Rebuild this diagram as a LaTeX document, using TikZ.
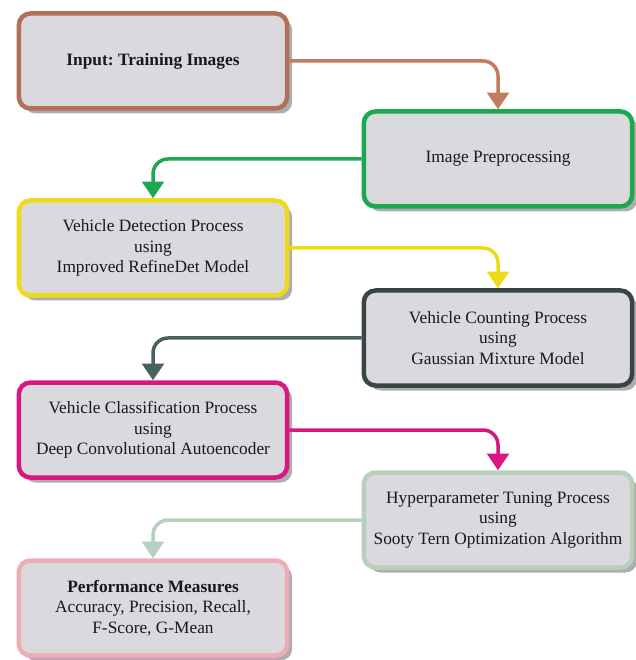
\documentclass[tikz,border=0pt]{standalone}
\usepackage{fontspec}
\setmainfont{Liberation Serif}
\usetikzlibrary{arrows.meta, shadows}
\frenchspacing

\definecolor{boxfill}{RGB}{218,218,222}
\definecolor{inbrown}{RGB}{178,112,88}
\definecolor{arbrown}{RGB}{196,122,92}
\definecolor{prepgreen}{RGB}{28,168,78}
\definecolor{detyellow}{RGB}{238,218,24}
\definecolor{cntgray}{RGB}{58,68,70}
\definecolor{cntslate}{RGB}{72,98,98}
\definecolor{clsmagenta}{RGB}{218,22,128}
\definecolor{hyppale}{RGB}{182,208,188}
\definecolor{perfpink}{RGB}{240,172,182}

\begin{document}
\begin{tikzpicture}[x=0.6pt, y=-0.6pt,
    stage/.style={draw, line width=2.7pt, rounded corners=7pt, fill=boxfill,
                  minimum width=161pt, minimum height=57pt, align=center,
                  text=black!90, font=\fontsize{10.4}{12.3}\selectfont,
                  drop shadow={shadow xshift=3pt, shadow yshift=-3pt,
                               fill=black!45, opacity=.7}},
    fl/.style={line width=2.1pt, rounded corners=9pt,
               -{Triangle[width=13pt, length=10pt]}}
]
    \useasboundingbox (0,0) rectangle (635,660);

    \node[stage, draw=inbrown]    (input) at (153,61)  {\textbf{Input: Training Images}};
    \node[stage, draw=prepgreen]  (prep)  at (498,159) {Image Preprocessing};
    \node[stage, draw=detyellow]  (det)   at (153,248) {Vehicle Detection Process\\using\\Improved RefineDet Model};
    \node[stage, draw=cntgray]    (cnt)   at (498,338) {Vehicle Counting Process\\using\\Gaussian Mixture Model};
    \node[stage, draw=clsmagenta] (cls)   at (153,430) {Vehicle Classification Process\\using\\Deep Convolutional Autoencoder};
    \node[stage, draw=hyppale]    (hyp)   at (498,520) {Hyperparameter Tuning Process\\using\\Sooty Tern Optimization Algorithm};
    \node[stage, draw=perfpink]   (perf)  at (153,608) {\textbf{Performance Measures}\\Accuracy, Precision, Recall,\\F-Score, G-Mean};

    \draw[fl, arbrown]    (input) -| (prep);
    \draw[fl, prepgreen]  (prep)  -| (det);
    \draw[fl, detyellow]  (det)   -| (cnt);
    \draw[fl, cntslate]   (cnt)   -| (cls);
    \draw[fl, clsmagenta] (cls)   -| (hyp);
    \draw[fl, hyppale]    (hyp)   -| (perf);
\end{tikzpicture}
\end{document}
